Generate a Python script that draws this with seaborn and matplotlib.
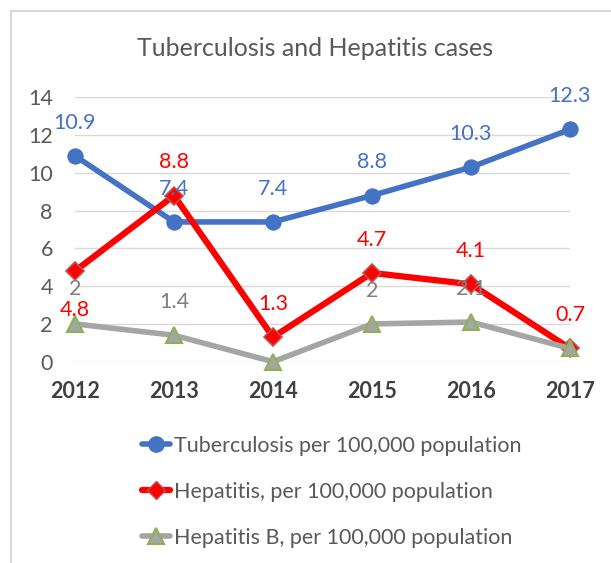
import matplotlib
matplotlib.use("Agg")
import matplotlib.pyplot as plt
import seaborn as sns
import pandas as pd
from matplotlib.lines import Line2D
from matplotlib.patches import Rectangle

years = [2012, 2013, 2014, 2015, 2016, 2017]
tuberculosis = [10.9, 7.4, 7.4, 8.8, 10.3, 12.3]
hepatitis = [4.8, 8.8, 1.3, 4.7, 4.1, 0.7]
hepatitis_b = [2, 1.4, 0, 2, 2.1, 0.7]
series_names = ["Tuberculosis per 100,000 population",
                "Hepatitis, per 100,000 population",
                "Hepatitis B, per 100,000 population"]
y_ticks = [0, 2, 4, 6, 8, 10, 12, 14]
title = "Tuberculosis and Hepatitis cases"

sns.set_theme(style="white")
plt.rcParams['font.family'] = ['Lato', 'DejaVu Sans']

W, H = 611, 563
fig = plt.figure(figsize=(W / 100, H / 100), dpi=100)
fig.patch.set_facecolor("white")

# border
fig.add_artist(Rectangle((11 / W, -0.1), 1.2, 1 - 11 / H + 0.1, transform=fig.transFigure,
                         fill=False, edgecolor="#D9D9D9", linewidth=1.5))

left, right = 75 / W, 570 / W
bottom, top = 1 - 361.7 / H, 1 - 97.3 / H
ax = fig.add_axes([left, bottom, right - left, top - bottom])

blue, red, gray = "#4472C4", "#FF0000", "#A5A5A5"

df_tb = pd.DataFrame({"year": years, "value": tuberculosis})
df_h = pd.DataFrame({"year": years, "value": hepatitis})
df_hb = pd.DataFrame({"year": years, "value": hepatitis_b})

sns.lineplot(data=df_tb, x="year", y="value", ax=ax, color=blue, linewidth=4,
             marker="o", markersize=11, markeredgecolor=blue, markerfacecolor=blue,
             clip_on=False, zorder=3)
sns.lineplot(data=df_h, x="year", y="value", ax=ax, color=red, linewidth=4.5,
             marker="D", markersize=9, markeredgecolor="#C0504D", markerfacecolor=red,
             markeredgewidth=1.2, clip_on=False, zorder=4)
sns.lineplot(data=df_hb, x="year", y="value", ax=ax, color=gray, linewidth=4,
             marker="^", markersize=12, markeredgecolor="#8DB255", markerfacecolor=gray,
             markeredgewidth=1.5, clip_on=False, zorder=5)

# data labels
lab_fs = 15.5
for x, v in zip(years, tuberculosis):
    ax.annotate(f"{v:g}", (x, v), xytext=(0, 24), textcoords="offset points",
                ha="center", va="center", color=blue, fontsize=lab_fs, zorder=6)
for i, (x, v) in enumerate(zip(years, hepatitis)):
    off = -28 if i == 0 else 24
    ax.annotate(f"{v:g}", (x, v), xytext=(0, off), textcoords="offset points",
                ha="center", va="center", color=red, fontsize=lab_fs, zorder=6)
for i, (x, v) in enumerate(zip(years, hepatitis_b)):
    if i in (2, 5):
        continue
    off = 25 if i == 0 else 24
    ax.annotate(f"{v:g}", (x, v), xytext=(0, off), textcoords="offset points",
                ha="center", va="center", color="#7F7F7F", fontsize=lab_fs, zorder=6)

ax.set_xlim(2012, 2017)
ax.set_ylim(0, 14)
ax.set_yticks(y_ticks)
ax.set_xticks(years)
ax.set_xticklabels([str(y) for y in years])
ax.set_xlabel("")
ax.set_ylabel("")
ax.grid(axis="y", color="#D9D9D9", linewidth=1)
ax.set_axisbelow(True)
for s in ax.spines.values():
    s.set_visible(False)
ax.tick_params(axis="y", length=0, pad=16, labelsize=15.5, labelcolor="#595959")
ax.tick_params(axis="x", length=0, pad=14, labelsize=15.5, labelcolor="#404040")
for t in ax.get_xticklabels():
    t.set_fontweight("bold")
if ax.get_legend():
    ax.get_legend().remove()

fig.text(315 / W, 1 - 48 / H, title, ha="center", va="center", fontsize=18, color="#595959")

handles = [
    Line2D([], [], color=blue, linewidth=4, marker="o", markersize=11, markerfacecolor=blue, markeredgecolor=blue),
    Line2D([], [], color=red, linewidth=4.5, marker="D", markersize=9, markerfacecolor=red, markeredgecolor="#C0504D"),
    Line2D([], [], color=gray, linewidth=4, marker="^", markersize=12, markerfacecolor=gray, markeredgecolor="#8DB255", markeredgewidth=1.5),
]
leg = fig.legend(handles, series_names, loc="upper left", bbox_to_anchor=(142 / W, 1 - 436 / H),
                 frameon=False, fontsize=15.5, handlelength=1.3, handletextpad=0.2,
                 labelspacing=1.2, borderpad=0, borderaxespad=0, labelcolor="#595959")

fig.savefig("out.png", dpi=100, facecolor="white")
